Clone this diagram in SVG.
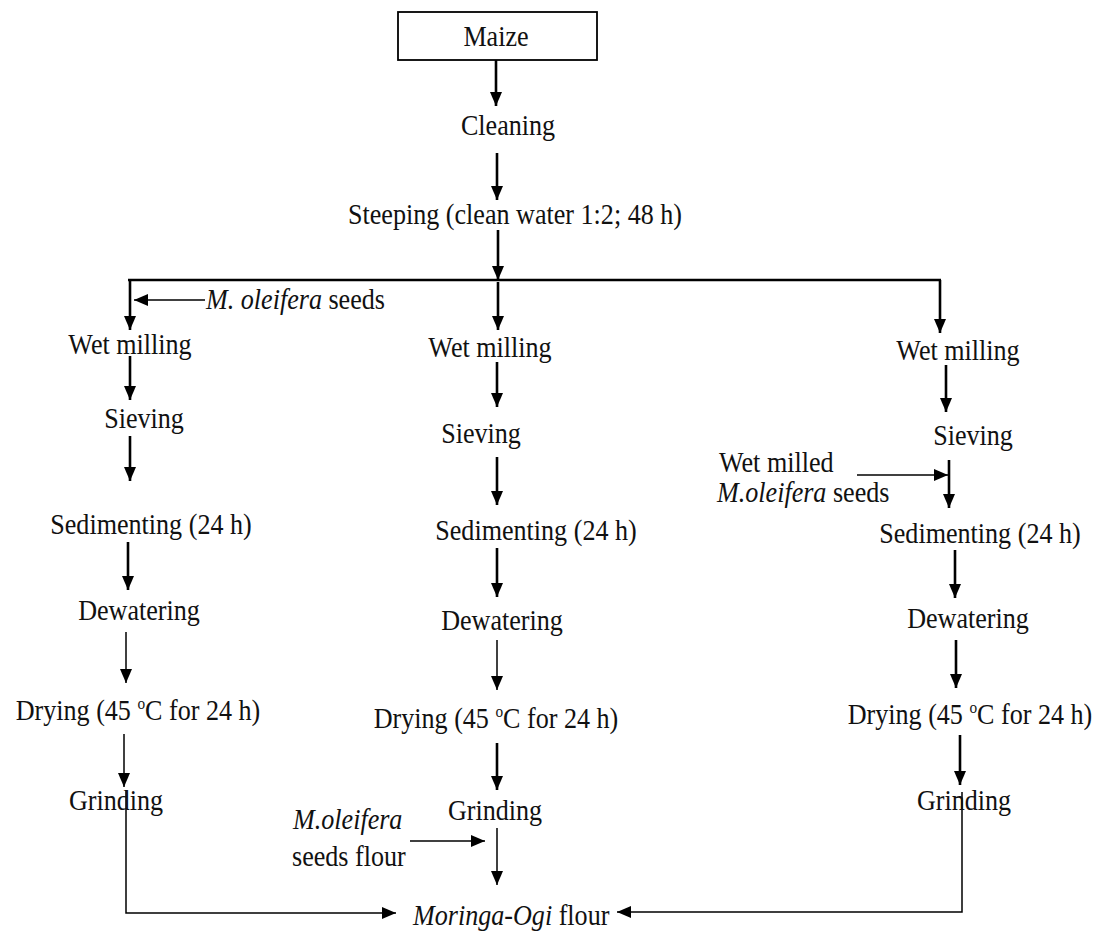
<svg xmlns="http://www.w3.org/2000/svg" width="1096" height="934" viewBox="0 0 1096 934">
<style>
text{font-family:"Liberation Serif","Times New Roman",serif;font-size:29px;fill:#111;}
.it{font-style:italic;}
.c{text-anchor:middle;}
.thick{stroke:#000;stroke-width:2.6;fill:none;}
.thin{stroke:#000;stroke-width:1.5;fill:none;}
.sup{font-size:17px;}
</style>
<defs>
<marker id="ah" markerUnits="userSpaceOnUse" markerWidth="14" markerHeight="16" refX="14" refY="6" orient="auto">
<path d="M0,0 L14,6 L0,12 Z" fill="#000"/>
</marker>
</defs>
<rect width="1096" height="934" fill="#fff"/>
<g id="connectors">
<path class="thick" d="M496,60 V106" marker-end="url(#ah)"/>
<path class="thick" d="M497,153 V200" marker-end="url(#ah)"/>
<path class="thick" d="M498,230 V280" marker-end="url(#ah)"/>
<path class="thick" d="M128,280 H941"/>
<path class="thick" d="M130,280 V330" marker-end="url(#ah)"/>
<path class="thin" d="M205,300 H134" marker-end="url(#ah)"/>
<path class="thick" d="M498,282 V330" marker-end="url(#ah)"/>
<path class="thick" d="M940,280 V333" marker-end="url(#ah)"/>
<path class="thick" d="M130,356 V400" marker-end="url(#ah)"/>
<path class="thick" d="M130,436 V481" marker-end="url(#ah)"/>
<path class="thick" d="M128,542 V590" marker-end="url(#ah)"/>
<path class="thin" d="M126,632 V683" marker-end="url(#ah)"/>
<path class="thin" d="M124,734 V787" marker-end="url(#ah)"/>
<path class="thin" d="M126,790 V913 H396" marker-end="url(#ah)"/>
<path class="thick" d="M497,362 V407" marker-end="url(#ah)"/>
<path class="thick" d="M497,457 V505" marker-end="url(#ah)"/>
<path class="thick" d="M497,548 V597" marker-end="url(#ah)"/>
<path class="thin" d="M497,640 V690" marker-end="url(#ah)"/>
<path class="thick" d="M497,743 V790" marker-end="url(#ah)"/>
<path class="thin" d="M497,828 V885" marker-end="url(#ah)"/>
<path class="thin" d="M410,841 H485" marker-end="url(#ah)"/>
<path class="thick" d="M946,365 V412" marker-end="url(#ah)"/>
<path class="thick" d="M949,460 V508" marker-end="url(#ah)"/>
<path class="thin" d="M857,475 H948" marker-end="url(#ah)"/>
<path class="thick" d="M955,550 V598" marker-end="url(#ah)"/>
<path class="thick" d="M956,640 V688" marker-end="url(#ah)"/>
<path class="thick" d="M960,735 V785" marker-end="url(#ah)"/>
<path class="thin" d="M962,792 V912 H617" marker-end="url(#ah)"/>
</g>
<g id="maize"><rect x="398" y="12" width="199" height="48" fill="none" stroke="#000" stroke-width="1.8"/><text class="c" transform="translate(496 46) scale(0.9 1)">Maize</text></g>
<g id="cleaning"><text class="c" transform="translate(508 135) scale(0.9 1)">Cleaning</text></g>
<g id="steeping"><text class="c" transform="translate(515 224) scale(0.9 1)">Steeping (clean water 1:2; 48 h)</text></g>
<g id="moleifera-seeds"><text transform="translate(206 309) scale(0.9 1)"><tspan class="it">M. oleifera</tspan> seeds</text></g>
<g id="l-wetmilling"><text class="c" transform="translate(130 354) scale(0.9 1)">Wet milling</text></g>
<g id="l-sieving"><text class="c" transform="translate(144 428) scale(0.9 1)">Sieving</text></g>
<g id="l-sedimenting"><text class="c" transform="translate(151 534) scale(0.9 1)">Sedimenting (24 h)</text></g>
<g id="l-dewatering"><text class="c" transform="translate(139 620) scale(0.9 1)">Dewatering</text></g>
<g id="l-drying"><text class="c" transform="translate(138 720) scale(0.9 1)">Drying (45 <tspan class="sup" dy="-11">o</tspan><tspan dy="11">C for 24 h)</tspan></text></g>
<g id="l-grinding"><text class="c" transform="translate(116 810) scale(0.9 1)">Grinding</text></g>
<g id="m-wetmilling"><text class="c" transform="translate(490 357) scale(0.9 1)">Wet milling</text></g>
<g id="m-sieving"><text class="c" transform="translate(481 443) scale(0.9 1)">Sieving</text></g>
<g id="m-sedimenting"><text class="c" transform="translate(536 540) scale(0.9 1)">Sedimenting (24 h)</text></g>
<g id="m-dewatering"><text class="c" transform="translate(502 630) scale(0.9 1)">Dewatering</text></g>
<g id="m-drying"><text class="c" transform="translate(496 728) scale(0.9 1)">Drying (45 <tspan class="sup" dy="-11">o</tspan><tspan dy="11">C for 24 h)</tspan></text></g>
<g id="m-grinding"><text class="c" transform="translate(495 820) scale(0.9 1)">Grinding</text></g>
<g id="m-seedsflour"><text class="it" transform="translate(293 829) scale(0.9 1)">M.oleifera</text><text transform="translate(292 866) scale(0.9 1)">seeds flour</text></g>
<g id="r-wetmilling"><text class="c" transform="translate(958 360) scale(0.9 1)">Wet milling</text></g>
<g id="r-sieving"><text class="c" transform="translate(973 445) scale(0.9 1)">Sieving</text></g>
<g id="r-wetmilled"><text transform="translate(719 472) scale(0.9 1)">Wet milled</text><text transform="translate(717 502) scale(0.9 1)"><tspan class="it">M.oleifera</tspan> seeds</text></g>
<g id="r-sedimenting"><text class="c" transform="translate(980 543) scale(0.9 1)">Sedimenting (24 h)</text></g>
<g id="r-dewatering"><text class="c" transform="translate(968 628) scale(0.9 1)">Dewatering</text></g>
<g id="r-drying"><text class="c" transform="translate(970 724) scale(0.9 1)">Drying (45 <tspan class="sup" dy="-11">o</tspan><tspan dy="11">C for 24 h)</tspan></text></g>
<g id="r-grinding"><text class="c" transform="translate(964 810) scale(0.9 1)">Grinding</text></g>
<g id="product"><text transform="translate(413 925) scale(0.9 1)"><tspan class="it">Moringa-Ogi</tspan> flour</text></g>
</svg>
